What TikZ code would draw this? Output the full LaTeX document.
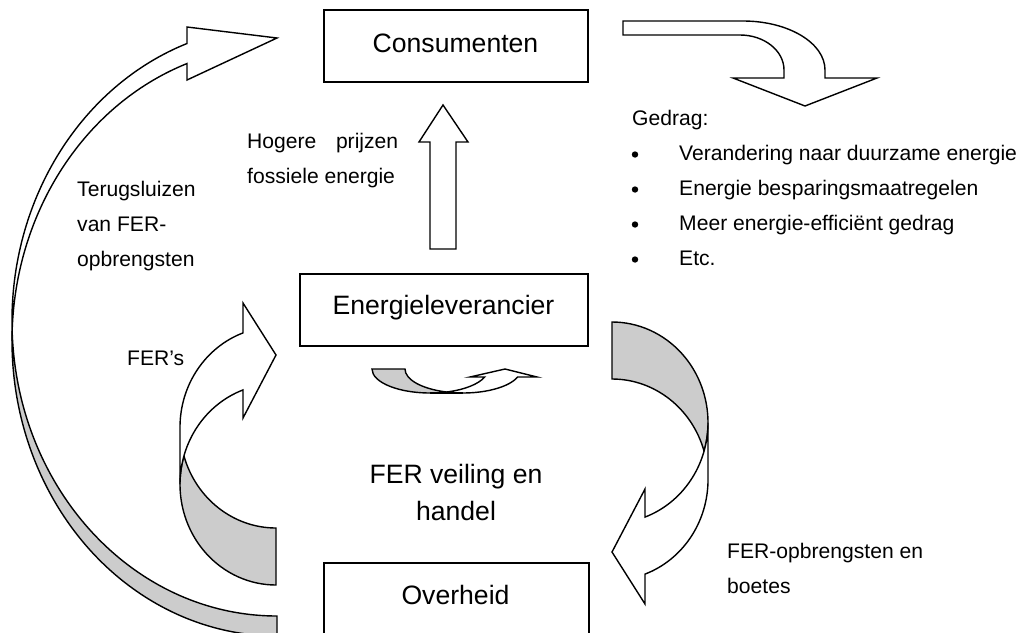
\documentclass[tikz,border=0pt]{standalone}
\usepackage{fontspec}
\setmainfont{Liberation Sans}
\definecolor{backgray}{RGB}{204,204,204}
\begin{document}
\begin{tikzpicture}[x=1pt,y=1pt,
  box/.style={draw, line width=1.8pt, fill=white, inner sep=0pt},
  blockarrow/.style={draw, line width=1.4pt, fill=white, line join=miter},
  backside/.style={draw, line width=1.4pt, fill=backgray, line join=miter},
  lbl/.style={font=\fontsize{26.6}{32}\selectfont, inner sep=0pt, anchor=base},
  note/.style={font=\fontsize{21.1}{35}\selectfont, inner sep=0pt, anchor=base west},
  dot/.style={circle, fill=black, inner sep=0pt, minimum size=6.4pt}
]
\useasboundingbox (0,0) rectangle (1024,-632);
\fill[white] (0,0) rectangle (1024,-632);
\clip (0,0) rectangle (1024,-632);

% ---- big return arrow on the left (Overheid -> Consumenten)
\begin{scope}[shift={(277,-636)}]
  \path[backside] ([shift={(0,295)}]178.06:265 and 295)
    arc[start angle=178.06, end angle=270, x radius=265, y radius=295]
    -- (0,20)
    arc[start angle=270, end angle=181.94, x radius=265, y radius=295] -- cycle;
  \path[blockarrow] (-265,295)
    arc[start angle=180, end angle=109.85, x radius=265, y radius=295]
    -- (-90,556) -- (0,598) -- (-90,609) -- (-90,592.5)
    arc[start angle=109.85, end angle=180, x radius=265, y radius=295] -- cycle;
\end{scope}

% ---- curved arrow "FER's" (Overheid -> Energieleverancier)
\begin{scope}[shift={(276,-585)}]
  \path[backside] ([shift={(0,100.6)}]163.54:96 and 100.6)
    arc[start angle=163.54, end angle=270, x radius=96, y radius=100.6]
    -- (0,57)
    arc[start angle=270, end angle=196.46, x radius=96, y radius=100.6] -- cycle;
  \path[blockarrow] (-96,100.6)
    arc[start angle=180, end angle=110.1, x radius=96, y radius=100.6]
    -- (-33,167) -- (0,230) -- (-33,282) -- (-33,252.1)
    arc[start angle=110.1, end angle=180, x radius=96, y radius=100.6] -- cycle;
\end{scope}

% ---- curved arrow on the right (Energieleverancier -> Overheid), same shape turned round
\begin{scope}[shift={(612,-322)}, rotate=180]
  \path[backside] ([shift={(0,100.6)}]163.54:96 and 100.6)
    arc[start angle=163.54, end angle=270, x radius=96, y radius=100.6]
    -- (0,57)
    arc[start angle=270, end angle=196.46, x radius=96, y radius=100.6] -- cycle;
  \path[blockarrow] (-96,100.6)
    arc[start angle=180, end angle=110.1, x radius=96, y radius=100.6]
    -- (-33,167) -- (0,230) -- (-33,282) -- (-33,252.1)
    arc[start angle=110.1, end angle=180, x radius=96, y radius=100.6] -- cycle;
\end{scope}

% ---- small flat curved arrow under Energieleverancier
\begin{scope}[shift={(372,-369)}]
  \path[backside] ([shift={(58,0)}]286.53:58 and 24)
    arc[start angle=286.53, end angle=180, x radius=58, y radius=24]
    -- (33,0)
    arc[start angle=180, end angle=253.47, x radius=58, y radius=24] -- cycle;
  \path[blockarrow] (133,0) -- (165,-8) -- ([shift={(91,0)}]340.53:58 and 24)
    arc[start angle=340.53, end angle=253.47, x radius=58, y radius=24]
    arc[start angle=286.53, end angle=340.53, x radius=58, y radius=24]
    -- (98,-8) -- cycle;
  \draw[line width=1.4pt] (58,-24) -- (91,-24);
\end{scope}

% ---- straight arrow up (Energieleverancier -> Consumenten)
\path[blockarrow] (430,-249) -- (430,-142) -- (419,-142) -- (443,-105)
  -- (468,-142) -- (456,-142) -- (456,-249) -- cycle;

% ---- bent arrow top right (Consumenten -> Gedrag)
\path[blockarrow] (623,-21) -- (743,-21)
  arc[start angle=90, end angle=0, x radius=82, y radius=49]
  -- (825,-78) -- (877,-78) -- (805,-106) -- (733,-78) -- (784,-78) -- (784,-70)
  arc[start angle=0, end angle=90, x radius=44, y radius=35]
  -- (623,-35) -- cycle;

% ---- boxes
\node[box, minimum width=264pt, minimum height=72pt, anchor=north west] (cons) at (323,-9) {};
\node[box, minimum width=288pt, minimum height=72pt, anchor=north west] (elev) at (299,-273) {};
\node[box, minimum width=265pt, minimum height=90pt, anchor=north west] (over) at (323,-562) {};

\node[lbl] (consT) at (455.5,-52) {Consumenten};
\node[lbl] (elevT) at (443.5,-314) {Energieleverancier};
\node[lbl] (overT) at (455.5,-604) {Overheid};
\node[lbl] (fer1) at (456,-483) {FER veiling en};
\node[lbl] (fer2) at (456,-520) {handel};

% ---- annotations
\node[note] (hog1) at (247,-148) {\hbox to 151pt{Hogere\hfill prijzen}};
\node[note] (hog2) at (247,-183) {fossiele energie};

\node[note] (ter1) at (77,-196) {Terugsluizen};
\node[note] (ter2) at (77,-231) {van FER-};
\node[note] (ter3) at (77,-266) {opbrengsten};

\node[note] (fers) at (127,-365) {FER’s};

\node[note] (ged) at (632,-125.5) {Gedrag:};
\node[dot] (b1) at (635,-154.5) {};
\node[dot] (b2) at (635,-189.5) {};
\node[dot] (b3) at (635,-224.5) {};
\node[dot] (b4) at (635,-259.5) {};
\node[note] (g1) at (679,-160) {Verandering naar duurzame energie};
\node[note] (g2) at (679,-195) {Energie besparingsmaatregelen};
\node[note] (g3) at (679,-230) {Meer energie-efficiënt gedrag};
\node[note] (g4) at (679,-265) {Etc.};

\node[note] (opb1) at (727,-558) {FER-opbrengsten en};
\node[note] (opb2) at (727,-593) {boetes};
\end{tikzpicture}
\end{document}
